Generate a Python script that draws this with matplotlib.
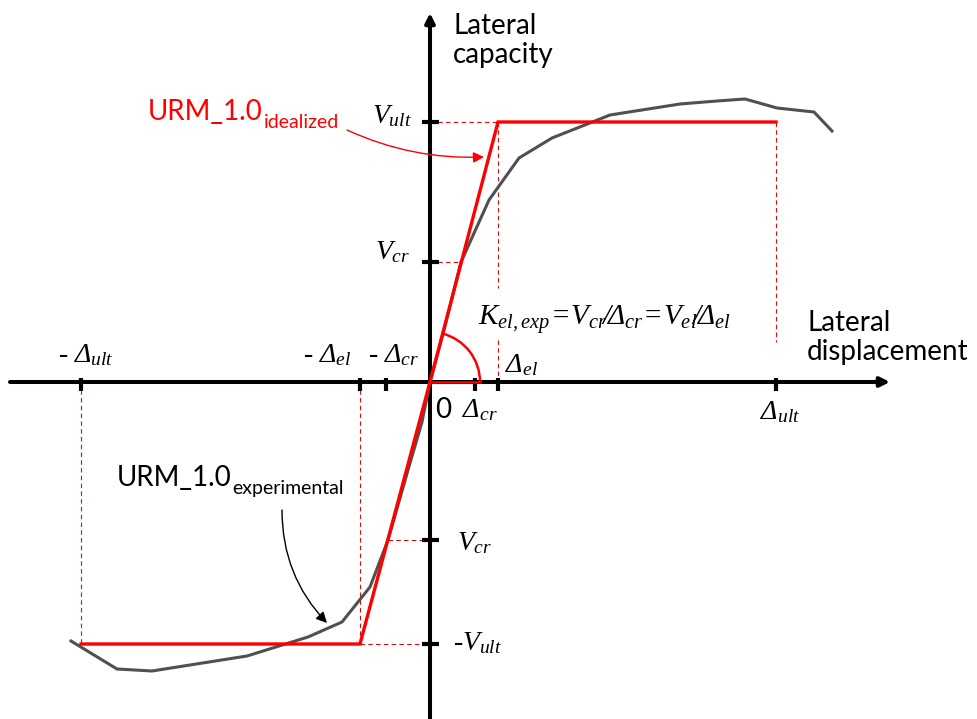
import numpy as np
import matplotlib.pyplot as plt
from matplotlib.patches import Arc

plt.rcParams['mathtext.fontset'] = 'custom'
# rm is italic too: mathtext forces Greek capitals to the rm font
plt.rcParams['mathtext.rm'] = 'Liberation Serif:italic'
plt.rcParams['mathtext.it'] = 'Liberation Serif:italic'
plt.rcParams['mathtext.sf'] = 'Lato'

# key values (arbitrary units, origin at 0,0)
d_cr, d_el, d_ult = 45, 68, 346          # positive displacements
nd_cr, nd_el, nd_ult = -44, -70, -349    # negative displacements
v_cr, v_ult = 120, 260                   # positive capacities
nv_cr, nv_ult = -158, -262               # negative capacities

# idealized bilinear envelope
ideal_x = [nd_ult, nd_el, 0, d_el, d_ult]
ideal_y = [nv_ult, nv_ult, 0, v_ult, v_ult]

# experimental envelope
exp_x = [-359, -313, -278, -183, -122, -88, -60, -42, -22, -8, 0,
         14, 31, 59, 89, 122, 180, 250, 287, 315, 347, 384, 402]
exp_y = [-259, -287, -289, -274, -255, -240, -205, -158, -88, -40, 0,
         52, 120, 182, 224, 244, 267, 278, 281, 283, 274, 270, 251]

x_ticks = [nd_ult, nd_el, nd_cr, d_cr, d_el, d_ult]
y_ticks = [v_ult, v_cr, nv_cr, nv_ult]

SERIF = 'Liberation Serif'
SANS = 'Lato'
RED = '#ff0000'
DRED = '#d01010'
GRAY = '#505050'

fig = plt.figure(figsize=(9.78, 7.19), dpi=100)
ax = fig.add_axes([0, 0, 1, 1])
ax.set_xlim(-430, 548)
ax.set_ylim(-337, 382)
ax.axis('off')

# thin dashed guide lines
dash = dict(color=DRED, lw=0.8, ls=(0, (4, 3)), zorder=1)
ax.plot([0, d_el], [v_ult, v_ult], **dash)
ax.plot([0, d_el * v_cr / v_ult], [v_cr, v_cr], **dash)
ax.plot([d_el, d_el], [v_ult, 94], **dash)
ax.plot([d_el, d_el], [42, 0], **dash)
ax.plot([d_ult, d_ult], [v_ult, 40], **dash)
ax.plot([nd_ult, nd_ult], [0, nv_ult], **dash)
ax.plot([nd_el, nd_el], [0, nv_ult], **dash)
ax.plot([nd_el, 0], [nv_ult, nv_ult], **dash)
ax.plot([nd_el * nv_cr / nv_ult, 0], [nv_cr, nv_cr], **dash)

# axes with arrows
ax.annotate('', xy=(460, 0), xytext=(-420, 0),
            arrowprops=dict(arrowstyle='-|>', lw=2.9, color='k',
                            mutation_scale=14, shrinkA=0, shrinkB=0), zorder=2)
ax.annotate('', xy=(0, 369), xytext=(0, -345),
            arrowprops=dict(arrowstyle='-|>', lw=2.9, color='k',
                            mutation_scale=14, shrinkA=0, shrinkB=0), zorder=2)
ax.vlines(x_ticks, -9, 4.5, color='k', lw=3, zorder=2)
ax.hlines(y_ticks, -8.5, 8.5, color='k', lw=3, zorder=2)

# curves
ax.plot(exp_x, exp_y, color=GRAY, lw=2.2, zorder=3, solid_joinstyle='miter')
ax.plot(ideal_x, ideal_y, color=RED, lw=2.4, zorder=4, solid_joinstyle='miter')

# stiffness angle
r = 50
ang = np.degrees(np.arctan2(v_ult, d_el))
ax.add_patch(Arc((0, 0), 2 * r, 2 * r, theta1=0, theta2=ang, color=RED, lw=1.8, zorder=4))
ax.plot([0, r], [0, 0], color=RED, lw=1.8, zorder=4)

# labels on the axes
lab = dict(family=SERIF, fontsize=20, va='baseline', ha='left')
ax.text(-58, 259, r'$V_{ult}$', **lab)
ax.text(-55, 123, r'$V_{cr}$', **lab)
ax.text(27, -168, r'$V_{cr}$', **lab)
ax.text(23, -268, r'-$V_{ult}$', **lab)
ax.text(-372, 20, r'- $Δ_{ult}$', **lab)
ax.text(-127, 20, r'- $Δ_{el}$', **lab)
ax.text(-62, 20, r'- $Δ_{cr}$', **lab)
ax.text(32, -35, r'$Δ_{cr}$', **lab)
ax.text(75, 10, r'$Δ_{el}$', **lab)
ax.text(330, -37, r'$Δ_{ult}$', **lab)
ax.text(48, 57, r'$K_{el,exp}\!=\!V_{cr}\!/\!Δ_{cr}\!=\!V_{el}\!/\!Δ_{el}$',
        family=SERIF, fontsize=21, va='baseline', ha='left')
ax.text(5, -36, '0', family=SANS, fontsize=20, va='baseline', ha='left')

ax.text(23, 369, 'Lateral\ncapacity', family=SANS, fontsize=20, va='top', ha='left',
        linespacing=1.15)
ax.text(377, 72, 'Lateral\ndisplacement', family=SANS, fontsize=20, va='top', ha='left',
        linespacing=1.15)

# curve names with callouts
t1 = ax.text(-282, 262, 'URM_1.0', family=SANS, fontsize=20, color=RED,
             va='baseline', ha='left')
ax.annotate('idealized', xy=(1, 0), xycoords=t1, xytext=(0.5, -4), textcoords='offset points',
            family=SANS, fontsize=14, color=RED, va='bottom', ha='left')
ax.annotate('', xy=(54, 225), xytext=(-83, 252),
            arrowprops=dict(arrowstyle='-|>', color=RED, lw=1.0, mutation_scale=16,
                            shrinkA=0, shrinkB=0, connectionstyle='arc3,rad=0.12'))

t2 = ax.text(-313, -104, 'URM_1.0', family=SANS, fontsize=20, color='k',
             va='baseline', ha='left')
ax.annotate('experimental', xy=(1, 0), xycoords=t2, xytext=(0.5, -4), textcoords='offset points',
            family=SANS, fontsize=14, color='k', va='bottom', ha='left')
ax.annotate('', xy=(-103, -241), xytext=(-148, -128),
            arrowprops=dict(arrowstyle='-|>', color='k', lw=1.0, mutation_scale=16,
                            shrinkA=0, shrinkB=0, connectionstyle='arc3,rad=0.2'))

fig.savefig('out.png', dpi=100)
